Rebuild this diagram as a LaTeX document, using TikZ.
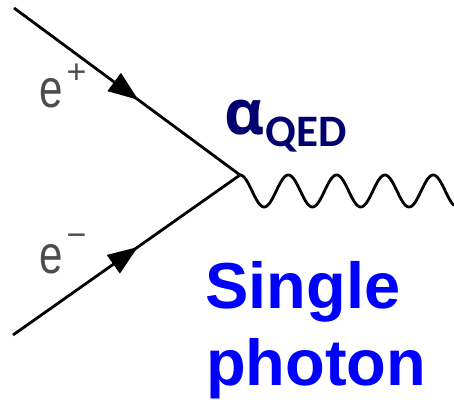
\documentclass[tikz,border=0pt]{standalone}
\usepackage{fontspec}
\setmainfont{Liberation Sans}
\newfontfamily\calfont{Carlito}
\newfontfamily\alphafont{Open Sans}
\usetikzlibrary{arrows.meta,decorations.markings}
\definecolor{navy}{RGB}{0,0,110}
\definecolor{pureblue}{RGB}{0,0,255}
\tikzset{
  fermion/.style={line width=2.8pt, black,
    postaction={decorate},
    decoration={markings, mark=at position 0.55 with {\arrow{Triangle[length=30pt,width=22pt]}}}},
  photonline/.style={line width=2.8pt, black, line join=round},
  elabel/.style={anchor=base west, inner sep=0pt, text=black!70},
  bluetext/.style={anchor=base west, inner sep=0pt, text=pureblue,
    font=\bfseries\fontsize{65}{77}\selectfont},
  couplabel/.style={anchor=base west, inner sep=0pt, text=navy}
}
\begin{document}
\begin{tikzpicture}[x=1pt,y=1pt]
\useasboundingbox (0,0) rectangle (454,399);
\coordinate (ep) at (14,391);
\coordinate (em) at (13,64);
\coordinate (v) at (240,224);
\draw[fermion] (ep) -- (v);
\draw[fermion] (em) -- (v);
\draw[photonline] plot[domain=0:214, samples=200, smooth] ({240+\x}, {208+16*cos(7.4534*\x)});
\node[elabel] (eplus) at (39,291) {\scalebox{0.78}[1]{\fontsize{54}{54}\selectfont e}\hspace{4pt}\raisebox{24pt}{\fontsize{34}{34}\selectfont +}};
\node[elabel] (eminus) at (39,126) {\scalebox{0.78}[1]{\fontsize{54}{54}\selectfont e}\hspace{4pt}\raisebox{27pt}{\fontsize{34}{34}\selectfont \textminus}};
\node[couplabel] (alpha) at (224,264) {{\alphafont\bfseries\fontsize{62}{62}\selectfont α}\hspace{1pt}\raisebox{-12pt}{\calfont\bfseries\fontsize{45}{45}\selectfont QED}};
\node[bluetext] (single) at (205,91) {Single};
\node[bluetext] (photon) at (206,14) {photon};
\end{tikzpicture}
\end{document}
